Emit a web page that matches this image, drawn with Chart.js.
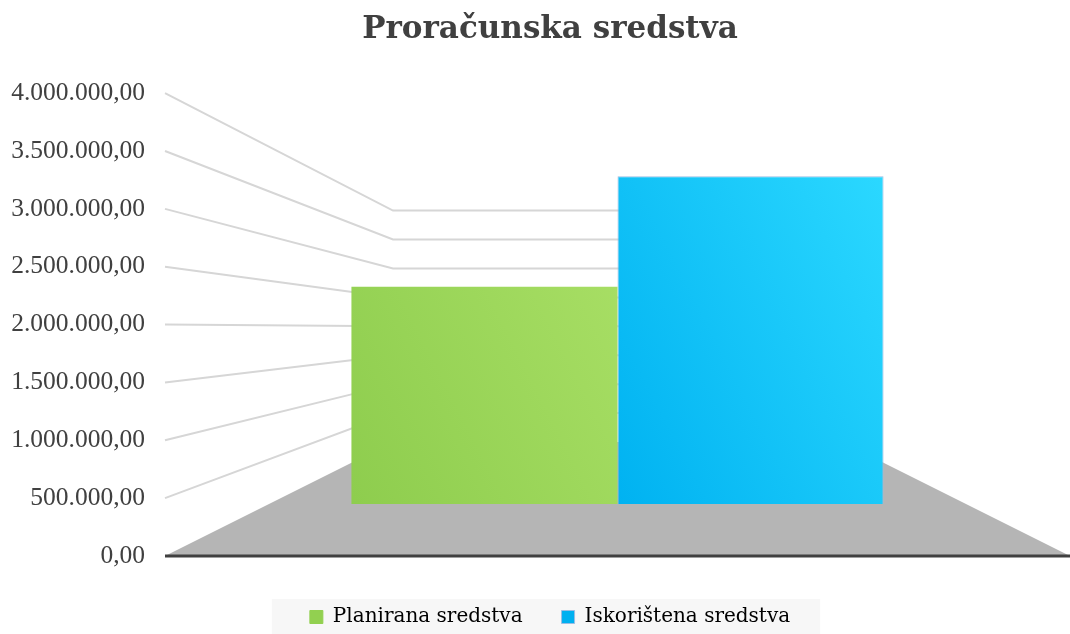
<!DOCTYPE html>
<html>
<head>
<meta charset="utf-8">
<script src="https://cdn.jsdelivr.net/npm/chart.js@4.4.1/dist/chart.umd.min.js"></script>
<style>
  html, body { margin: 0; padding: 0; background: #fff; }
  #okvir { width: 1070px; height: 634px; }
</style>
</head>
<body>
<div id="okvir"><canvas id="sredstva-grafica"></canvas></div>
<script>
const kategorije = [''];
const nazivi = ['Planirana sredstva', 'Iskorištena sredstva'];
const planirano = [2420000];
const iskoristeno = [3650000];
const yOznake = [0, 500000, 1000000, 1500000, 2000000, 2500000, 3000000, 3500000, 4000000];

// 3D izgled: pod i zidovi se crtaju prema y skali
const dubina = { dx: 228, dy: 114 };

function hrBroj(v) {
    const [cijeli, dec] = Number(v).toFixed(2).split('.');
    return cijeli.replace(/\B(?=(\d{3})+(?!\d))/g, '.') + ',' + dec;
}

function gradijent(chart, boje, od, doo) {
    const a = chart.chartArea;
    if (!a) return boje[0];
    const g = chart.ctx.createLinearGradient(a.left, a.bottom, a.right, a.top);
    g.addColorStop(od, boje[0]);
    g.addColorStop(doo, boje[1]);
    return g;
}

const perspektiva = {
    id: 'perspektiva',
    afterLayout(chart) {
        // oznake osi smiju ići do ruba platna
        chart.scales.y.left = 0;
    },
    beforeDraw(chart) {
        const { ctx } = chart;
        const kutije = chart.legend && chart.legend.legendHitBoxes;
        if (!kutije || !kutije.length) return;
        const lijevo = Math.min(...kutije.map(k => k.left)) - 38;
        const desno = Math.max(...kutije.map(k => k.left + k.width)) + 30;
        const vrh = kutije[0].top - 8;
        ctx.save();
        ctx.fillStyle = '#f7f7f7';
        ctx.fillRect(lijevo, vrh, desno - lijevo, chart.height - vrh);
        ctx.restore();
    },
    beforeDatasetsDraw(chart) {
        const { ctx, chartArea: a, scales: { y } } = chart;
        const bx = a.left + dubina.dx;
        const ex = a.right - dubina.dx;
        const by0 = a.bottom - dubina.dy;
        const straga = v => by0 + (y.getPixelForValue(v) - a.bottom) / 2;
        ctx.save();
        ctx.fillStyle = '#b5b5b5';
        ctx.beginPath();
        ctx.moveTo(a.left, a.bottom);
        ctx.lineTo(bx, by0);
        ctx.lineTo(ex, by0);
        ctx.lineTo(a.right, a.bottom);
        ctx.closePath();
        ctx.fill();
        ctx.strokeStyle = '#d6d6d6';
        ctx.lineWidth = 2;
        yOznake.slice(1).forEach(v => {
            ctx.beginPath();
            ctx.moveTo(a.left, y.getPixelForValue(v));
            ctx.lineTo(bx, straga(v));
            ctx.lineTo(ex, straga(v));
            ctx.stroke();
        });
        ctx.restore();
    },
    afterDatasetsDraw(chart) {
        const { ctx, chartArea: a } = chart;
        ctx.save();
        ctx.strokeStyle = '#404040';
        ctx.lineWidth = 3;
        ctx.beginPath();
        ctx.moveTo(a.left, a.bottom);
        ctx.lineTo(a.right, a.bottom);
        ctx.stroke();
        ctx.restore();
    }
};

const ctx = document.getElementById('sredstva-grafica');
new Chart(ctx, {
    type: 'bar',
    data: {
        labels: kategorije,
        datasets: [{
            label: nazivi[0],
            data: planirano,
            yAxisID: 'dubina',
            backgroundColor: c => gradijent(c.chart, ['#8ecd4e', '#a7de64'], 0.19, 0.52),
            borderWidth: 0
        }, {
            label: nazivi[1],
            data: iskoristeno,
            yAxisID: 'dubina',
            backgroundColor: c => gradijent(c.chart, ['#00b2f1', '#2bd8ff'], 0.42, 0.80),
            borderColor: '#9cbde3',
            borderWidth: 1
        }]
    },
    options: {
        responsive: true,
        maintainAspectRatio: false,
        animation: false,
        layout: { padding: { left: 30, right: 0, top: 0, bottom: -3 } },
        datasets: { bar: { barPercentage: 1, categoryPercentage: 0.588 } },
        scales: {
            x: {
                display: true,
                grid: { display: false, drawTicks: false },
                border: { display: false },
                ticks: { display: false },
                afterFit: s => { s.height = 12; }
            },
            y: {
                min: 0,
                max: 4000000,
                afterBuildTicks: s => { s.ticks = yOznake.map(v => ({ value: v })); },
                afterFit: s => { s.width = 135; },
                grid: { display: false, drawTicks: false },
                border: { display: false },
                ticks: {
                    padding: 20,
                    color: '#404040',
                    font: { family: 'Liberation Serif', size: 25.5 },
                    callback: v => hrBroj(v)
                }
            },
            dubina: { type: 'linear', display: false, min: -580000, max: 4576000 }
        },
        plugins: {
            title: {
                display: true,
                text: 'Proračunska sredstva',
                color: '#404040',
                font: { family: 'DejaVu Serif', size: 31, weight: 'bold' },
                padding: { top: 11, bottom: 45 }
            },
            legend: {
                position: 'bottom',
                labels: {
                    boxWidth: 13,
                    boxHeight: 13,
                    padding: 39,
                    color: '#404040',
                    font: { family: 'DejaVu Serif', size: 20 },
                    generateLabels: chart => nazivi.map((n, i) => ({
                        text: n,
                        fillStyle: i === 0 ? '#92d050' : '#00b0f0',
                        strokeStyle: i === 0 ? '#92d050' : '#9cbde3',
                        lineWidth: 1,
                        datasetIndex: i
                    }))
                }
            },
            tooltip: { enabled: false }
        }
    },
    plugins: [perspektiva]
});
</script>
</body>
</html>
